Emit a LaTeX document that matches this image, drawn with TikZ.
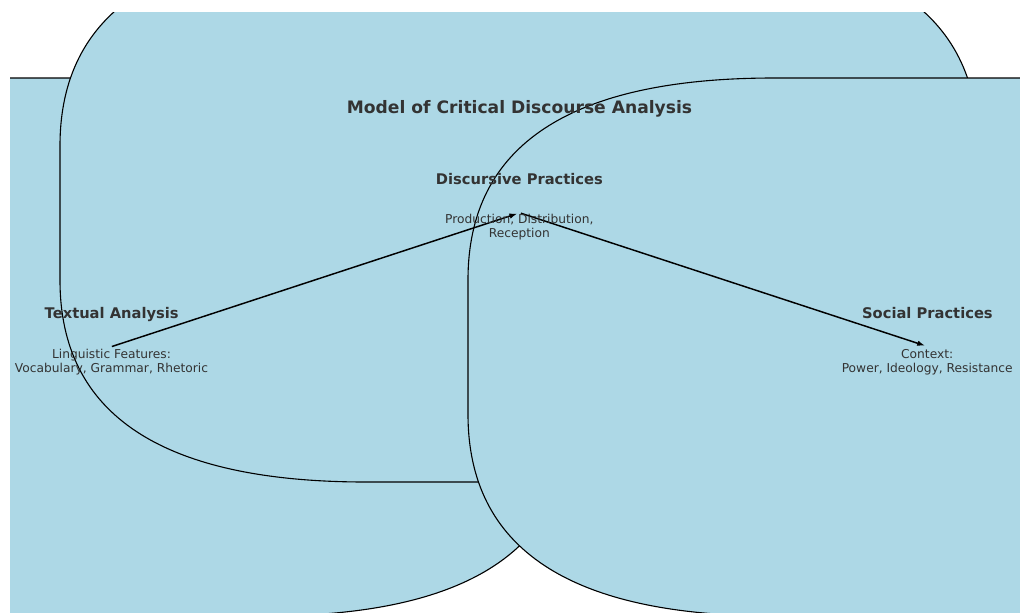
\documentclass[tikz,border=0pt]{standalone}
\usepackage{fontspec}
\setmainfont{DejaVu Sans}
\usetikzlibrary{arrows.meta}
\definecolor{boxfill}{HTML}{ADD8E6}
\definecolor{txtgray}{HTML}{333333}
% rounded box with matplotlib-like quadratic corners (rx=306, ry=201.75 px)
\newcommand\cdaRoundBox[4]{%
  \path[cdabox] ({#1+306},#2) -- ({#3-306},#2)
   .. controls ({#3-102},#2) and (#3,{#2+67.25}) .. (#3,{#2+201.75})
   -- (#3,{#4-201.75})
   .. controls (#3,{#4-67.25}) and ({#3-102},#4) .. ({#3-306},#4)
   -- ({#1+306},#4)
   .. controls ({#1+102},#4) and (#1,{#4-67.25}) .. (#1,{#4-201.75})
   -- (#1,{#2+201.75})
   .. controls (#1,{#2+67.25}) and ({#1+102},#2) .. ({#1+306},#2) -- cycle;}
\begin{document}
\begin{tikzpicture}[x=0.817pt, y={(0pt,-0.817pt)},
  cdabox/.style={fill=boxfill, draw=black, line width=0.9pt, line join=round},
  titletext/.style={font=\fontsize{14}{16.8}\selectfont\bfseries, text=txtgray, anchor=base, inner sep=0pt},
  headtext/.style={font=\fontsize{12}{14.4}\selectfont\bfseries, text=txtgray, anchor=base, inner sep=0pt},
  subtext/.style={font=\fontsize{10}{11.44}\selectfont, text=txtgray, align=center, anchor=north, inner sep=0pt},
  flow/.style={-{Latex[length=6.5pt,width=4.5pt]}, line width=1.2pt, black, shorten >=2pt}]
\useasboundingbox (0,0) rectangle (1020,612);
\begin{scope}
  \clip (10,12) rectangle (1020,612);
  \cdaRoundBox{-347}{78}{571}{616}
  \cdaRoundBox{60}{-56}{978}{482}
  \cdaRoundBox{468}{78}{1386}{616}
\end{scope}
\coordinate (pT) at (111.9,346.5);
\coordinate (pD) at (519.7,212.8);
\coordinate (pS) at (927.5,346.5);
\draw[flow] (pT) -- (pD);
\draw[flow, shorten <=1pt] (pD) -- (pS);
\node[titletext] (title) at (519.5,113) {Model of Critical Discourse Analysis};
\node[headtext] (hD) at (519.4,184) {Discursive Practices};
\node[subtext] (sD) at (519.3,214.3) {Production, Distribution,\\Reception};
\node[headtext] (hT) at (111.7,318) {Textual Analysis};
\node[subtext] (sT) at (111.5,349.2) {Linguistic Features:\\Vocabulary, Grammar, Rhetoric};
\node[headtext] (hS) at (927.4,318) {Social Practices};
\node[subtext] (sS) at (927.2,349.2) {Context:\\Power, Ideology, Resistance};
\end{tikzpicture}
\end{document}
